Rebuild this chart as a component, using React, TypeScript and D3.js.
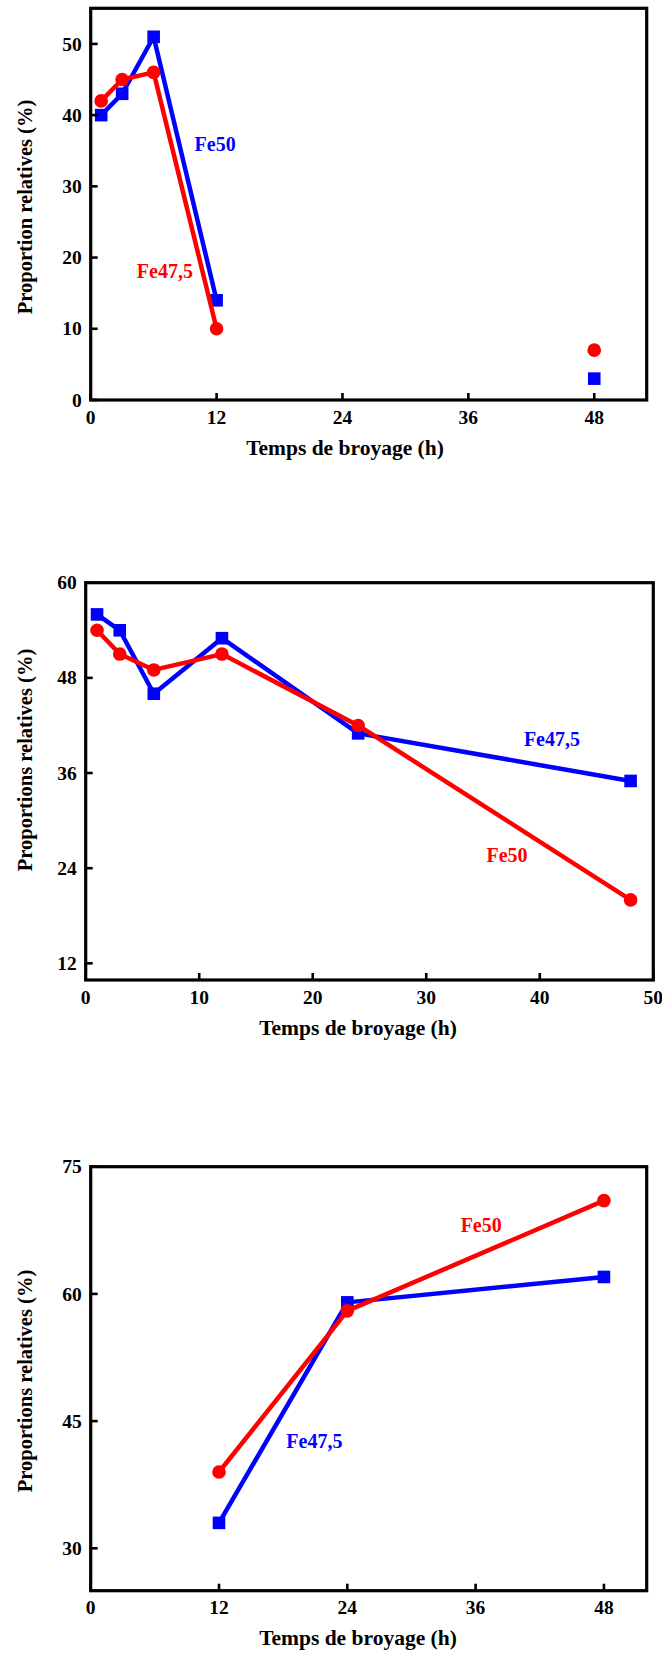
import React from "react";
import * as d3 from "d3";

// ---- Panel 1: proportions vs milling time ----
const hours1 = [1, 3, 6, 12, 48];
const fe50P1 = [40, 43, 51, 14, 3];
const fe475P1 = [42, 45, 46, 10, 7];
const xTicks1 = [0, 12, 24, 36, 48];
const yTicks1 = [0, 10, 20, 30, 40, 50];

// ---- Panel 2 ----
const hours2 = [1, 3, 6, 12, 24, 48];
const fe475P2 = [56, 54, 46, 53, 41, 35];
const fe50P2 = [54, 51, 49, 51, 42, 20];
const xTicks2 = [0, 10, 20, 30, 40, 50];
const yTicks2 = [12, 24, 36, 48, 60];

// ---- Panel 3 ----
const hours3 = [12, 24, 48];
const fe475P3 = [33, 59, 62];
const fe50P3 = [39, 58, 71];
const xTicks3 = [0, 12, 24, 36, 48];
const yTicks3 = [30, 45, 60, 75];

const BLUE = "#0000ff";
const RED = "#ff0000";
const FONT = "Liberation Serif, Times New Roman, serif";

type Series = {
  x: number[];
  y: number[];
  color: string;
  marker: "square" | "circle";
  lineUntil: number; // last x value joined by the line
};

type Label = { text: string; x: number; y: number; color: string };

type PanelProps = {
  left: number;
  top: number;
  right: number;
  bottom: number;
  xDomain: [number, number];
  yDomain: [number, number];
  xTicks: number[];
  yTicks: number[];
  series: Series[];
  labels: Label[];
  yTitle: string;
  yTitleCenter: number;
  xTitleCenter: number;
  xTitleBaseline: number;
};

const txt = (size: number): React.CSSProperties => ({
  fontFamily: FONT,
  fontWeight: 700,
  fontSize: size,
});

function Panel(p: PanelProps) {
  const x = d3.scaleLinear().domain(p.xDomain).range([p.left, p.right]);
  const y = d3.scaleLinear().domain(p.yDomain).range([p.bottom, p.top]);
  const tickLen = 7;

  return (
    <g>
      {p.series.map((s, i) => {
        const pts = s.x
          .map((xv, k) => [xv, s.y[k]] as [number, number])
          .filter((d) => d[0] <= s.lineUntil);
        const path = d3
          .line<[number, number]>()
          .x((d) => x(d[0]))
          .y((d) => y(d[1]))(pts);
        return (
          <g key={i}>
            <path
              d={path || ""}
              fill="none"
              stroke={s.color}
              strokeWidth={4.5}
              strokeLinejoin="round"
            />
            {s.x.map((xv, k) =>
              s.marker === "square" ? (
                <rect
                  key={k}
                  x={x(xv) - 6.3}
                  y={y(s.y[k]) - 6.3}
                  width={12.6}
                  height={12.6}
                  fill={s.color}
                />
              ) : (
                <circle key={k} cx={x(xv)} cy={y(s.y[k])} r={6.8} fill={s.color} />
              )
            )}
          </g>
        );
      })}

      {/* frame */}
      <rect
        x={p.left}
        y={p.top}
        width={p.right - p.left}
        height={p.bottom - p.top}
        fill="none"
        stroke="#000"
        strokeWidth={3.2}
      />

      {/* x ticks */}
      {p.xTicks.map((t) => (
        <g key={"x" + t}>
          <line
            x1={x(t)}
            x2={x(t)}
            y1={p.bottom}
            y2={p.bottom - tickLen}
            stroke="#000"
            strokeWidth={2.6}
          />
          <text x={x(t)} y={p.bottom + 23.5} textAnchor="middle" style={txt(19.5)}>
            {t}
          </text>
        </g>
      ))}

      {/* y ticks */}
      {p.yTicks.map((t) => (
        <g key={"y" + t}>
          <line
            x1={p.left}
            x2={p.left + tickLen}
            y1={y(t)}
            y2={y(t)}
            stroke="#000"
            strokeWidth={2.6}
          />
          <text x={p.left - 9} y={y(t) + 6.6} textAnchor="end" style={txt(19.5)}>
            {t}
          </text>
        </g>
      ))}

      {/* in-plot series labels */}
      {p.labels.map((l, i) => (
        <text key={"l" + i} x={x(l.x)} y={y(l.y)} fill={l.color} style={txt(20)}>
          {l.text}
        </text>
      ))}

      {/* axis titles */}
      <text
        transform={`translate(32,${p.yTitleCenter}) rotate(-90)`}
        textAnchor="middle"
        style={txt(20.5)}
      >
        {p.yTitle}
      </text>
      <text
        x={p.xTitleCenter}
        y={p.xTitleBaseline}
        textAnchor="middle"
        style={txt(21.5)}
      >
        Temps de broyage (h)
      </text>
    </g>
  );
}

export default function App() {
  return (
    <div style={{ position: "absolute", left: 0, top: 0 }}>
      <svg width={662} height={1655} style={{ display: "block", background: "#fff" }}>
        <Panel
          left={90.7}
          top={8.3}
          right={646.7}
          bottom={400}
          xDomain={[0, 53]}
          yDomain={[0, 55]}
          xTicks={xTicks1}
          yTicks={yTicks1}
          series={[
            { x: hours1, y: fe50P1, color: BLUE, marker: "square", lineUntil: 12 },
            { x: hours1, y: fe475P1, color: RED, marker: "circle", lineUntil: 12 },
          ]}
          labels={[
            { text: "Fe50", x: 9.9, y: 35, color: BLUE },
            { text: "Fe47,5", x: 4.4, y: 17.2, color: RED },
          ]}
          yTitle="Proportion relatives (%)"
          yTitleCenter={207}
          xTitleCenter={345}
          xTitleBaseline={455}
        />
        <Panel
          left={85.7}
          top={582.7}
          right={653.3}
          bottom={980}
          xDomain={[0, 50]}
          yDomain={[9.9, 60]}
          xTicks={xTicks2}
          yTicks={yTicks2}
          series={[
            { x: hours2, y: fe475P2, color: BLUE, marker: "square", lineUntil: 48 },
            { x: hours2, y: fe50P2, color: RED, marker: "circle", lineUntil: 48 },
          ]}
          labels={[
            { text: "Fe47,5", x: 38.6, y: 39.4, color: BLUE },
            { text: "Fe50", x: 35.3, y: 24.8, color: RED },
          ]}
          yTitle="Proportions relatives (%)"
          yTitleCenter={760}
          xTitleCenter={358}
          xTitleBaseline={1035}
        />
        <Panel
          left={90.7}
          top={1166.7}
          right={646.7}
          bottom={1590.7}
          xDomain={[0, 52]}
          yDomain={[25, 75]}
          xTicks={xTicks3}
          yTicks={yTicks3}
          series={[
            { x: hours3, y: fe475P3, color: BLUE, marker: "square", lineUntil: 48 },
            { x: hours3, y: fe50P3, color: RED, marker: "circle", lineUntil: 48 },
          ]}
          labels={[
            { text: "Fe50", x: 34.6, y: 67.3, color: RED },
            { text: "Fe47,5", x: 18.3, y: 41.8, color: BLUE },
          ]}
          yTitle="Proportions relatives (%)"
          yTitleCenter={1381}
          xTitleCenter={358}
          xTitleBaseline={1645}
        />
      </svg>
    </div>
  );
}
